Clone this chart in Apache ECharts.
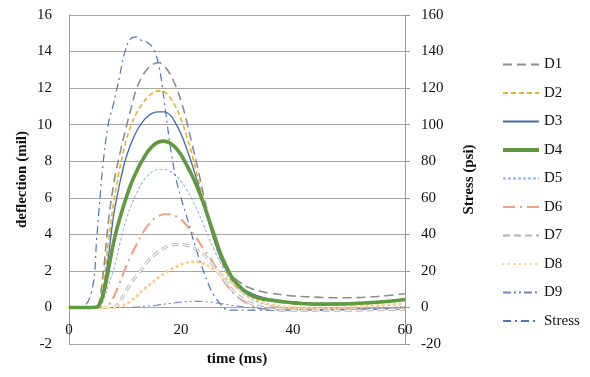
<!DOCTYPE html>
<html lang="en">
<head>
<meta charset="utf-8">
<title>Deflection and Stress</title>
<script src="https://cdn.jsdelivr.net/npm/echarts@6/dist/echarts.min.js"></script>
<style>
  html, body { margin: 0; padding: 0; background: #fff; }
</style>
</head>
<body>
<div id="main" style="width: 590px; height: 377px;"></div>
<script type="text/javascript">

let time = [0, 2, 4, 5, 6, 7, 8, 9, 10, 11, 12, 13, 14, 15, 16, 17, 18, 19, 20, 21, 22, 23, 24, 25, 26, 27, 28, 29, 30, 32, 34, 36, 38, 40, 45, 50, 55, 60];

let d1 = [0, 0, 0, 0.05, 1.6, 4.6, 6.8, 8.3, 9.6, 10.8, 11.9, 12.6, 13.05, 13.3, 13.4, 13.2, 12.8, 12.15, 11.3, 10.2, 8.9, 7.6, 6.2, 4.9, 3.8, 2.9, 2.25, 1.8, 1.5, 1.1, 0.9, 0.78, 0.7, 0.63, 0.55, 0.53, 0.6, 0.75];
let d2 = [0, 0, 0, 0.05, 1.0, 3.5, 5.8, 7.5, 8.9, 9.9, 10.6, 11.1, 11.5, 11.75, 11.85, 11.8, 11.5, 11.0, 10.3, 9.4, 8.3, 7.1, 5.9, 4.7, 3.6, 2.7, 2.0, 1.5, 1.15, 0.75, 0.5, 0.35, 0.3, 0.25, 0.15, 0.15, 0.25, 0.4];
let d3 = [0, 0, 0, 0.03, 0.8, 2.7, 5.1, 6.7, 8.0, 8.9, 9.6, 10.1, 10.45, 10.65, 10.7, 10.7, 10.55, 10.1, 9.5, 8.7, 7.8, 6.8, 5.7, 4.6, 3.6, 2.75, 2.1, 1.6, 1.25, 0.85, 0.6, 0.45, 0.35, 0.3, 0.22, 0.22, 0.3, 0.45];
let d4 = [0, 0, 0, 0.02, 0.6, 2.0, 3.6, 4.8, 5.8, 6.7, 7.4, 8.0, 8.5, 8.85, 9.05, 9.1, 9.0, 8.75, 8.35, 7.8, 7.2, 6.5, 5.7, 4.8, 3.9, 3.0, 2.3, 1.7, 1.3, 0.75, 0.5, 0.4, 0.32, 0.25, 0.18, 0.2, 0.28, 0.43];
let d5 = [0, 0, 0, 0, 0.3, 1.2, 2.1, 3.4, 4.6, 5.5, 6.2, 6.8, 7.2, 7.45, 7.55, 7.55, 7.45, 7.25, 6.9, 6.45, 5.9, 5.25, 4.55, 3.8, 3.1, 2.45, 1.9, 1.4, 1.05, 0.55, 0.25, 0.1, 0, -0.05, -0.1, -0.1, -0.05, 0.05];
let d6 = [0, 0, 0, 0, 0, 0.1, 0.6, 1.3, 2.1, 2.8, 3.4, 4.0, 4.45, 4.8, 5.0, 5.1, 5.1, 5.0, 4.8, 4.5, 4.1, 3.7, 3.2, 2.8, 2.3, 1.8, 1.3, 0.9, 0.6, 0.2, 0, -0.1, -0.12, -0.12, -0.1, -0.1, -0.05, 0];
let d7 = [0, 0, 0, 0, 0, 0, 0, 0.3, 0.8, 1.3, 1.7, 2.1, 2.5, 2.8, 3.05, 3.25, 3.4, 3.45, 3.45, 3.4, 3.3, 3.1, 2.9, 2.6, 2.2, 1.8, 1.4, 1.0, 0.7, 0.3, 0.05, -0.1, -0.15, -0.15, -0.15, -0.15, -0.12, -0.1];
let d8 = [0, 0, 0, 0, 0, 0, 0, 0.05, 0.15, 0.35, 0.6, 0.9, 1.15, 1.4, 1.65, 1.85, 2.05, 2.2, 2.35, 2.45, 2.5, 2.5, 2.4, 2.25, 2.05, 1.85, 1.6, 1.35, 1.1, 0.65, 0.35, 0.15, 0.05, 0, -0.05, 0, 0.1, 0.2];
let d9 = [0, 0, 0, 0, 0, 0, 0, 0, 0, 0, 0.02, 0.05, 0.08, 0.1, 0.14, 0.18, 0.22, 0.26, 0.3, 0.32, 0.33, 0.33, 0.32, 0.3, 0.26, 0.22, 0.17, 0.12, 0.08, 0, -0.05, -0.1, -0.12, -0.12, -0.12, -0.1, -0.05, 0];
let stress = [0, 0, 8, 40, 76, 100, 112, 126, 140, 147, 148, 146, 145, 142, 133, 113, 90, 72, 60, 50, 39, 29, 20, 12, 6, 2, -1, -1.5, -1.5, -1.5, -1.5, -1.5, -1.5, -1.5, -1.5, -1.2, -1, -1];

let names = ['D1', 'D2', 'D3', 'D4', 'D5', 'D6', 'D7', 'D8', 'D9', 'Stress'];
let values = [d1, d2, d3, d4, d5, d6, d7, d8, d9, stress];

let leftTicks = [-2, 16, 2];
let rightTicks = [-20, 160, 20];
let timeTicks = [0, 60, 20];

// line look for each series, in legend order
let looks = [
    { color: '#8c8c8c', width: 1.6, type: [9, 5] },
    { color: '#e2b425', width: 1.6, type: [5, 3] },
    { color: '#4468b0', width: 1.3, type: 'solid' },
    { color: '#5e9a3e', width: 3.6, type: 'solid' },
    { color: '#95b4de', width: 1.1, type: [3, 2] },
    { color: '#f0a285', width: 2.2, type: [12, 5, 2, 5] },
    { color: '#b4b4b4', width: 3, type: [7, 4] },
    { color: '#fccd86', width: 3, type: [0.5, 5], cap: 'round' },
    { color: '#7386bd', width: 1.1, type: [8, 3, 2, 3, 2, 3] },
    { color: '#4a78b8', width: 1.2, type: [8, 4, 2, 4] }
];

let serif = '"Liberation Serif", "DejaVu Serif", serif';

let myChart = echarts.init(document.getElementById('main'));

let series = names.map((name, i) => ({
    name: name,
    type: 'line',
    yAxisIndex: name === 'Stress' ? 1 : 0,
    smooth: 0.4,
    symbol: 'none',
    data: time.map((t, k) => [t, values[i][k]]),
    lineStyle: {
        color: looks[i].color,
        width: looks[i].width,
        type: looks[i].type,
        cap: looks[i].cap || 'butt'
    },
    itemStyle: { color: looks[i].color },
    z: name === 'D4' ? 3 : 2
}));

// white core on D7 so its dashes look hollow
series.push({
    name: 'D7',
    type: 'line',
    smooth: 0.4,
    symbol: 'none',
    data: time.map((t, k) => [t, d7[k]]),
    lineStyle: { color: '#ffffff', width: 1.2, type: [7, 4] },
    itemStyle: { color: '#b4b4b4' },
    z: 2
});

let legendData = names.map(n => n === 'D4'
    ? { name: n, lineStyle: { width: 4 } }
    : n);

let options = {
    animation: false,
    grid: { left: 69, right: 185, top: 15, bottom: 33, outerBoundsMode: 'none', containLabel: false },
    legend: {
        orient: 'vertical',
        left: 496,
        top: 52,
        itemWidth: 36,
        itemHeight: 14,
        itemGap: 13.5,
        itemStyle: { opacity: 0 },
        textStyle: { fontFamily: serif, fontSize: 15, color: '#111' },
        data: legendData
    },
    xAxis: {
        type: 'value',
        min: timeTicks[0], max: timeTicks[1], interval: timeTicks[2],
        name: 'time (ms)',
        nameLocation: 'middle',
        nameGap: 8,
        nameTextStyle: { fontFamily: serif, fontSize: 15, fontWeight: 'bold', color: '#111' },
        axisLine: { show: false, onZero: false },
        axisTick: { show: false },
        axisLabel: { inside: true, fontFamily: serif, fontSize: 15, color: '#111', margin: 6 },
        splitLine: { show: false }
    },
    yAxis: [
        {
            type: 'value',
            min: leftTicks[0], max: leftTicks[1], interval: leftTicks[2],
            name: 'deflection (mil)',
            nameLocation: 'middle',
            nameRotate: 90,
            nameGap: 39,
            nameMoveOverlap: false,
            nameTextStyle: { fontFamily: serif, fontSize: 15, fontWeight: 'bold', color: '#111' },
            axisLine: { show: true, onZero: false, lineStyle: { color: '#999' } },
            axisTick: { show: false },
            axisLabel: { fontFamily: serif, fontSize: 15, color: '#111', margin: 17 },
            splitLine: { lineStyle: { color: '#a6a6a6', width: 1 } }
        },
        {
            type: 'value',
            min: rightTicks[0], max: rightTicks[1], interval: rightTicks[2],
            position: 'right',
            name: 'Stress (psi)',
            nameLocation: 'middle',
            nameRotate: 90,
            nameGap: 57,
            nameTextStyle: { fontFamily: serif, fontSize: 15, fontWeight: 'bold', color: '#111' },
            axisLine: { show: true, onZero: false, lineStyle: { color: '#999' } },
            axisTick: { show: true, length: 5, lineStyle: { color: '#999' } },
            axisLabel: { fontFamily: serif, fontSize: 15, color: '#111', margin: 16 },
            splitLine: { show: false }
        }
    ],
    series: series
};

myChart.setOption(options);

</script>
</body>
</html>
